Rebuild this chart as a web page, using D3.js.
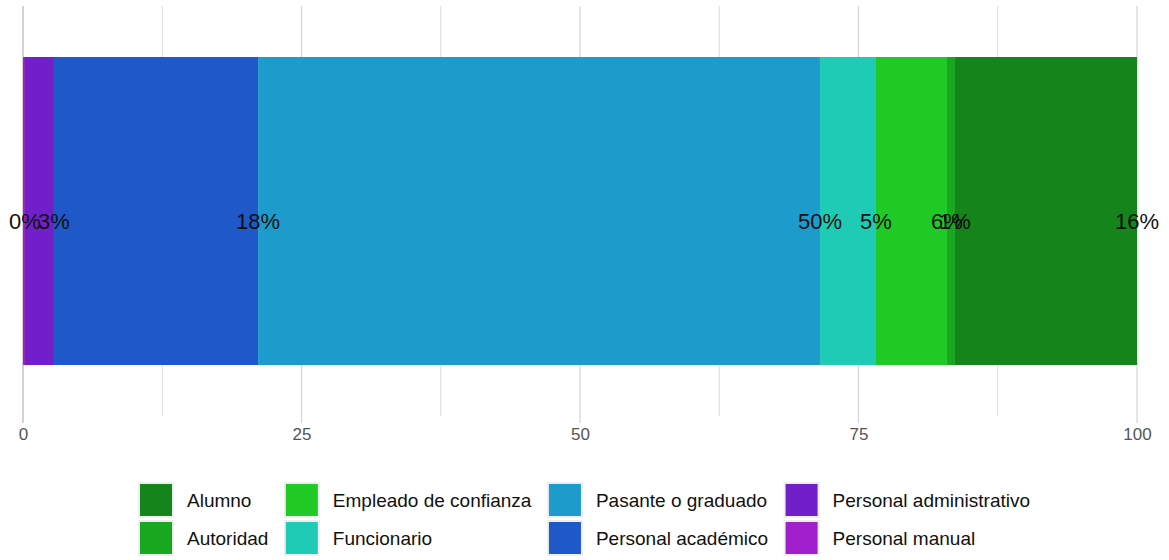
<!DOCTYPE html>
<html><head><meta charset="utf-8">
<script src="https://cdn.jsdelivr.net/npm/d3@7"></script>
<style>body{margin:0;background:#fff}svg{display:block;font-family:"Liberation Sans",Arial,sans-serif}</style>
</head><body><svg id="c" width="1169" height="560"></svg>
<script>
// Stack order (left to right)
const categories = ["Personal manual","Personal administrativo","Personal académico","Pasante o graduado","Funcionario","Empleado de confianza","Autoridad","Alumno"];
const values = [0.18, 2.6, 18.32, 50.44, 5.03, 6.37, 0.72, 16.34];
const colors = ["#a11fca","#7120c9","#1f58c9","#1e9bcd","#1fcbb4","#1fca27","#17a820","#15841a"];
const legendOrder = ["Alumno","Autoridad","Empleado de confianza","Funcionario","Pasante o graduado","Personal académico","Personal administrativo","Personal manual"];
const tickValues = [0,25,50,75,100];
const minorTicks = [12.5,37.5,62.5,87.5];

const svg = d3.select("#c");
const x = d3.scaleLinear().domain([0,100]).range([23,1137]);
const color = d3.scaleOrdinal().domain(categories).range(colors);

// grid
svg.append("g").selectAll("line").data(minorTicks).join("line")
  .attr("x1",d=>x(d)).attr("x2",d=>x(d)).attr("y1",6).attr("y2",416)
  .attr("stroke","#dcdcdc").attr("stroke-width",1);
svg.append("g").selectAll("line").data(tickValues).join("line")
  .attr("x1",d=>x(d)).attr("x2",d=>x(d)).attr("y1",6).attr("y2",423)
  .attr("stroke","#d4d4d4").attr("stroke-width",d=>d===0?2:1.2);

// axis
const axis = d3.axisBottom(x).tickValues(tickValues).tickSize(0).tickPadding(0);
const ag = svg.append("g").attr("transform","translate(0,428)").call(axis);
ag.select(".domain").remove();
ag.selectAll("text").attr("fill","#555").attr("font-size",17).attr("dy","0.71em")
  .attr("font-family","'Liberation Sans',Arial,sans-serif");

// stacked bar
let cum = 0;
const segs = values.map((v,i)=>{const s={cat:categories[i],v,x0:cum,x1:cum+v}; cum+=v; return s;});
const barY = 57, barH = 308;
svg.append("g").selectAll("rect").data(segs).join("rect")
  .attr("x",d=>x(d.x0)).attr("width",d=>x(d.x1)-x(d.x0))
  .attr("y",barY).attr("height",barH).attr("fill",d=>color(d.cat));
svg.append("g").selectAll("text").data(segs).join("text")
  .attr("x",d=>x(d.x1)).attr("y",229).attr("text-anchor","middle")
  .attr("font-size",22).attr("fill","#111")
  .text(d=>Math.round(d.v)+"%");

// legend
const lg = svg.append("g");
let cx = 138;
for (let c=0;c<4;c++){
  const items = legendOrder.slice(c*2,c*2+2);
  let maxW = 0;
  items.forEach((name,r)=>{
    const y0 = 482 + r*38;
    lg.append("rect").attr("x",cx+1).attr("y",y0+1).attr("width",34).attr("height",34)
      .attr("fill",color(name)).attr("stroke","#eeeeee").attr("stroke-width",2);
    const t = lg.append("text").attr("x",cx+49).attr("y",y0+25).attr("font-size",19)
      .attr("fill","#111").text(name);
    maxW = Math.max(maxW, t.node().getComputedTextLength());
  });
  cx = cx + 49 + maxW + 15.5;
}
</script></body></html>
